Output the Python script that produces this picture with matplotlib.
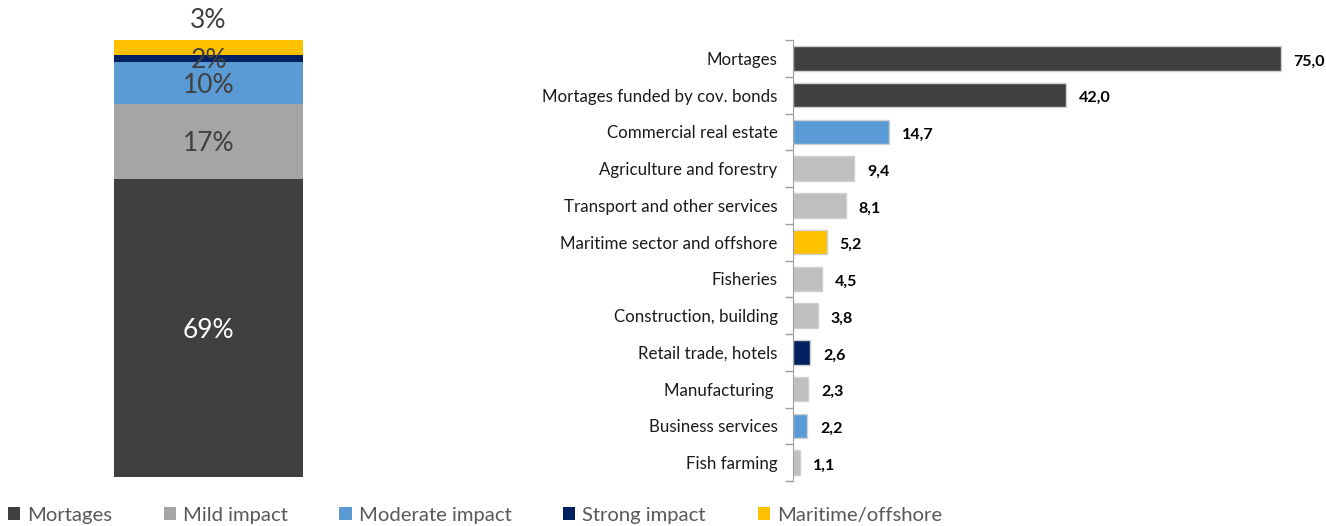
import matplotlib
matplotlib.use("Agg")
import matplotlib.pyplot as plt
from matplotlib.patches import Patch

plt.rcParams['font.family'] = ['Lato', 'DejaVu Sans']

# right panel: exposures by sector
sectors = ["Mortages", "Mortages funded by cov. bonds", "Commercial real estate",
           "Agriculture and forestry", "Transport and other services",
           "Maritime sector and offshore", "Fisheries", "Construction, building",
           "Retail trade, hotels", "Manufacturing ", "Business services", "Fish farming"]
values = [75.0, 42.0, 14.7, 9.4, 8.1, 5.2, 4.5, 3.8, 2.6, 2.3, 2.2, 1.1]
groups = ["mort", "mort", "mod", "mild", "mild", "mar", "mild", "mild",
          "strong", "mild", "mod", "mild"]

# left panel: share by impact group (bottom to top)
grp_names = ["Mortages", "Mild impact", "Moderate impact", "Strong impact", "Maritime/offshore"]
grp_share = [68.3, 17.1, 9.6, 1.6, 3.4]
grp_labels = ["69%", "17%", "10%", "2%", "3%"]

left_cols = ["#404040", "#a5a5a5", "#5b9bd5", "#002060", "#ffc000"]
right_cols = {"mort": "#404040", "mild": "#bfbfbf", "mod": "#5b9bd5",
              "strong": "#002060", "mar": "#ffc000"}

W, H = 1326, 526
fig = plt.figure(figsize=(W / 100, H / 100), dpi=100)

# ---- stacked bar
ax1 = fig.add_axes([114 / W, (H - 477) / H, 189 / W, 437 / H])
bottom = 0
for i, (s, c) in enumerate(zip(grp_share, left_cols)):
    ax1.bar(0, s, bottom=bottom, width=1, color=c, linewidth=0)
    mid = bottom + s / 2
    tc = "white" if i == 0 else "#404040"
    if i == 4:
        ax1.text(0, bottom + s + 1.6, grp_labels[i], ha="center", va="bottom",
                 fontsize=19, color="#404040", clip_on=False)
    else:
        ax1.text(0, mid - 0.6, grp_labels[i], ha="center", va="center",
                 fontsize=19, color=tc, clip_on=False)
    bottom += s
ax1.set_xlim(-0.5, 0.5)
ax1.set_ylim(0, sum(grp_share))
ax1.axis("off")

# ---- horizontal bars
ax2 = fig.add_axes([793 / W, (H - 481) / H, 520 / W, 441 / H])
ypos = list(range(len(sectors)))
cols = [right_cols[g] for g in groups]
ax2.barh(ypos, values, height=0.66, color=cols, edgecolor="#d0d0d0", linewidth=1)
for y, v in zip(ypos, values):
    ax2.text(v + 2.0, y + 0.08, f"{v:.1f}".replace(".", ","), ha="left", va="center",
             fontsize=11.5, fontweight="bold", color="black")
ax2.set_xlim(0, 80)
ax2.set_ylim(len(sectors) - 0.5, -0.5)
ax2.set_yticks(ypos)
ax2.set_yticklabels(sectors, fontsize=12.2, color="#1a1a1a")
ax2.set_yticks([y - 0.5 for y in ypos] + [len(sectors) - 0.5], minor=True)
ax2.tick_params(axis="y", which="major", length=0, pad=11)
ax2.tick_params(axis="y", which="minor", length=6, color="#a0a0a0", width=1)
ax2.tick_params(axis="x", bottom=False, labelbottom=False)
for sp in ["top", "right", "bottom"]:
    ax2.spines[sp].set_visible(False)
ax2.spines["left"].set_color("#a0a0a0")

# ---- legend
handles = [Patch(facecolor=c, edgecolor="none") for c in left_cols]
leg = fig.legend(handles, grp_names, loc="lower left", bbox_to_anchor=(-0.008, -0.03),
                 ncol=5, frameon=False, fontsize=14.6, handlelength=0.6, handleheight=0.6,
                 handletextpad=0.35, columnspacing=2.55)
for t in leg.get_texts():
    t.set_color("#595959")

fig.savefig("out.png", dpi=100)
